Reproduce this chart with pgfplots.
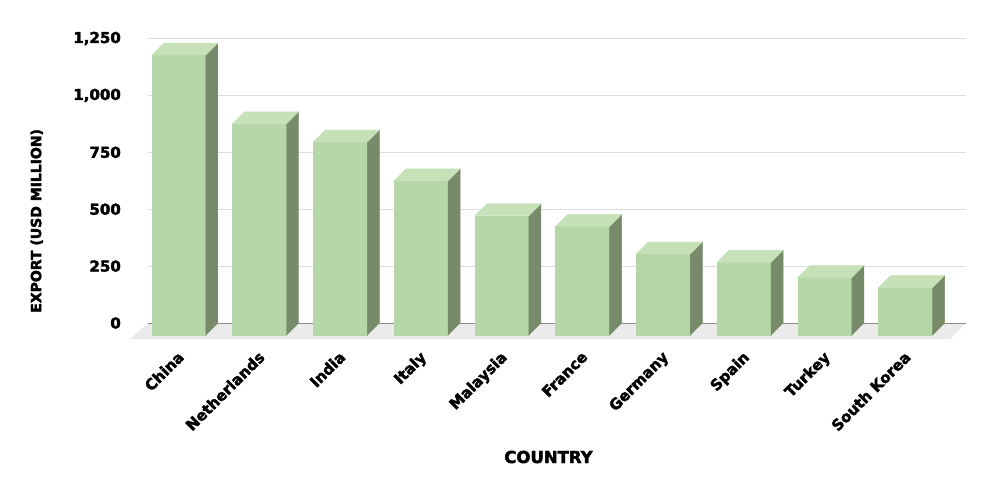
\documentclass[border=0pt]{standalone}
\usepackage{pgfplots}
\pgfplotsset{compat=1.18}
\usepackage{fontspec}
\newfontfamily\heavy{DejaVu Sans}[BoldFeatures={FakeBold=2.5}]
\definecolor{barfront}{HTML}{B5D6A7}
\definecolor{bartop}{HTML}{C6E0B8}
\definecolor{barside}{HTML}{778B6B}
\definecolor{floorgray}{HTML}{EBEBEB}
\definecolor{gridgray}{HTML}{DDDDDD}
\newcommand\lab[1]{\heavy\bfseries\fontsize{#1}{#1}\selectfont}

\begin{document}
\begin{tikzpicture}[x=1pt,y=1pt]
\path[use as bounding box] (0,0) rectangle (992,479);
\begin{axis}[
  at={(148pt,156pt)}, anchor=south west,
  scale only axis, width=818pt, height=284.5pt,
  xmin=-0.53, xmax=9.6, ymin=0, ymax=1250,
  clip=false,
  axis line style={draw=none},
  major tick style={draw=none},
  ytick={0,250,...,1250},
  ymajorgrids, grid style={gridgray, line width=1pt},
  xtick={0,...,9},
  xticklabels={China,Netherlands,India,Italy,Malaysia,France,Germany,Spain,Turkey,South Korea},
  xticklabel style={xshift=-14pt, yshift=-27pt, rotate=45, anchor=north east, inner sep=0pt, font=\lab{15}},
  yticklabel style={anchor=east, inner sep=0pt, xshift=-27pt, font=\lab{15}},
  /pgf/number format/assume math mode=true,
  /pgf/number format/1000 sep={,},
  xlabel={COUNTRY}, ylabel={EXPORT (USD MILLION)},
  xlabel style={at={(rel axis cs:0.4896,-0.471)}, anchor=center, font=\lab{16.5}},
  ylabel style={at={(rel axis cs:-0.136,0.359)}, anchor=center, font=\lab{14}},
]
% floor and zero line
\fill[floorgray] (axis cs:-0.53,0) -- (axis cs:9.6,0)
   -- ([shift={(-16pt,-16pt)}]axis cs:9.6,0)
   -- ([shift={(-18pt,-16pt)}]axis cs:-0.53,0) -- cycle;
\draw[black!45, line width=1pt] (axis cs:-0.53,0) -- (axis cs:9.6,0);

% 3d columns, drawn from each data point down to zero
\addplot[scatter, only marks, mark=*, mark size=0pt,
  mark options={draw=none, fill=none},
  visualization depends on={y \as \barv},
  scatter/@pre marker code/.code={%
    \pgfmathsetmacro\H{\barv*0.2276}%
    \pgfmathsetmacro\F{-12-\H}%
    \pgfmathsetmacro\B{-\H}%
    \fill[barfront] (-39pt,-12pt) rectangle (15pt,\F pt);
    \fill[barside] (15pt,-12pt) -- (27pt,0pt) -- (27pt,\B pt) -- (15pt,\F pt) -- cycle;
    \fill[bartop] (-39pt,-12pt) -- (-27pt,0pt) -- (27pt,0pt) -- (15pt,-12pt) -- cycle;
    \scope},
  scatter/@post marker code/.code={\endscope},
] coordinates {
  (0,1230) (1,928) (2,848) (3,677) (4,524)
  (5,476) (6,356) (7,319) (8,252) (9,208)
};
\end{axis}
\end{tikzpicture}
\end{document}
